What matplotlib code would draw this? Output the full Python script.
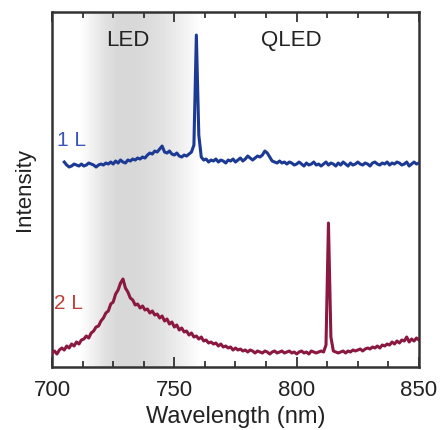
import numpy as np
import matplotlib
matplotlib.use("Agg")
import matplotlib.pyplot as plt
from matplotlib.ticker import MultipleLocator

plt.rcParams['font.family'] = ['Liberation Sans', 'DejaVu Sans']

# 1 L spectrum (arb. units), 705-850 nm, 1 nm steps
wl_1L = np.arange(705, 851, 1.0)
I_1L = [205, 202, 200, 201, 203, 202, 201, 203, 201, 202,
        204, 203, 202, 200, 202, 203, 202, 204, 203, 205,
        203, 206, 204, 207, 205, 204, 207, 206, 208, 207,
        209, 208, 210, 209, 212, 214, 213, 216, 215, 218,
        221, 215, 214, 216, 213, 212, 214, 211, 210, 212,
        211, 213, 215, 222, 332, 232, 210, 207, 208, 205,
        207, 206, 208, 205, 207, 206, 204, 207, 206, 208,
        205, 207, 209, 206, 208, 211, 209, 207, 209, 211,
        210, 212, 216, 214, 210, 206, 205, 204, 206, 204,
        205, 203, 205, 204, 202, 203, 205, 203, 201, 204,
        202, 203, 205, 202, 203, 201, 203, 205, 202, 204,
        203, 201, 204, 202, 205, 203, 201, 204, 202, 203,
        205, 203, 202, 204, 203, 201, 204, 205, 203, 202,
        204, 203, 205, 202, 204, 203, 205, 204, 202, 203,
        205, 201, 203, 205, 203, 204]

# 2 L spectrum (arb. units), 700-850 nm, 1 nm steps
wl_2L = np.arange(700, 851, 1.0)
I_2L = [14, 16, 13, 17, 19, 17, 21, 19, 23, 21,
        25, 23, 27, 28, 31, 29, 34, 36, 40, 41,
        46, 49, 54, 56, 63, 65, 73, 77, 84, 88,
        79, 75, 69, 67, 62, 63, 59, 61, 57, 58,
        54, 56, 52, 53, 49, 51, 46, 48, 43, 45,
        40, 42, 37, 39, 35, 36, 32, 34, 30, 31,
        28, 30, 26, 27, 24, 25, 23, 24, 21, 23,
        20, 21, 19, 20, 17, 19, 17, 18, 16, 17,
        15, 17, 16, 14, 16, 15, 14, 16, 15, 13,
        15, 16, 14, 15, 16, 14, 15, 16, 14, 15,
        13, 15, 16, 14, 15, 13, 16, 15, 14, 15,
        16, 15, 22, 144, 30, 16, 15, 14, 15, 16,
        14, 16, 15, 17, 16, 17, 18, 16, 18, 19,
        18, 20, 19, 21, 19, 22, 21, 23, 22, 25,
        23, 26, 24, 27, 26, 30, 25, 28, 26, 29,
        27]

# LED emission band shading (grey level vs wavelength)
band_wl = [700, 711, 716, 722, 727, 734, 742, 749, 755, 761, 850]
band_grey = [1.0, 1.0, 0.95, 0.88, 0.845, 0.845, 0.87, 0.91, 0.955, 1.0, 1.0]

xticks = [700, 750, 800, 850]

fig = plt.figure(figsize=(4.41, 4.30), dpi=100)
ax = fig.add_axes([0.118, 0.1465, 0.832, 0.8255])

gx = np.linspace(700, 850, 736)
grey = np.interp(gx, band_wl, band_grey)
ax.imshow(grey[np.newaxis, :], extent=[700, 850, 0, 355], aspect='auto',
          cmap='gray', vmin=0, vmax=1, zorder=0, interpolation='nearest')

ax.plot(wl_1L, I_1L, color='#1c3a94', lw=2.2, zorder=3)
ax.plot(wl_2L, I_2L, color='#8a1840', lw=2.2, zorder=3)

ax.text(731, 327, 'LED', fontsize=16, ha='center', va='center', color='#222222')
ax.text(798, 327, 'QLED', fontsize=16, ha='center', va='center', color='#222222')
ax.text(702, 227, '1 L', fontsize=15, ha='left', va='center', color='#3a55b5')
ax.text(701, 64, '2 L', fontsize=15, ha='left', va='center', color='#c2403a')

ax.set_xlim(700, 850)
ax.set_ylim(0, 355)
ax.set_xticks(xticks)
ax.xaxis.set_minor_locator(MultipleLocator(12.5))
ax.set_yticks([])
ax.tick_params(axis='x', which='both', direction='in', top=True, bottom=True,
               labelsize=16, pad=9, colors='#222222')
ax.tick_params(axis='x', which='major', length=7, width=1.2)
ax.tick_params(axis='x', which='minor', length=4, width=1.2)
for s in ax.spines.values():
    s.set_linewidth(1.8)
    s.set_color('#333333')

ax.set_xlabel('Wavelength (nm)', fontsize=17, labelpad=4, color='#222222')
ax.set_ylabel('Intensity', fontsize=16, labelpad=12, color='#222222')

fig.savefig('out.png', dpi=100)
